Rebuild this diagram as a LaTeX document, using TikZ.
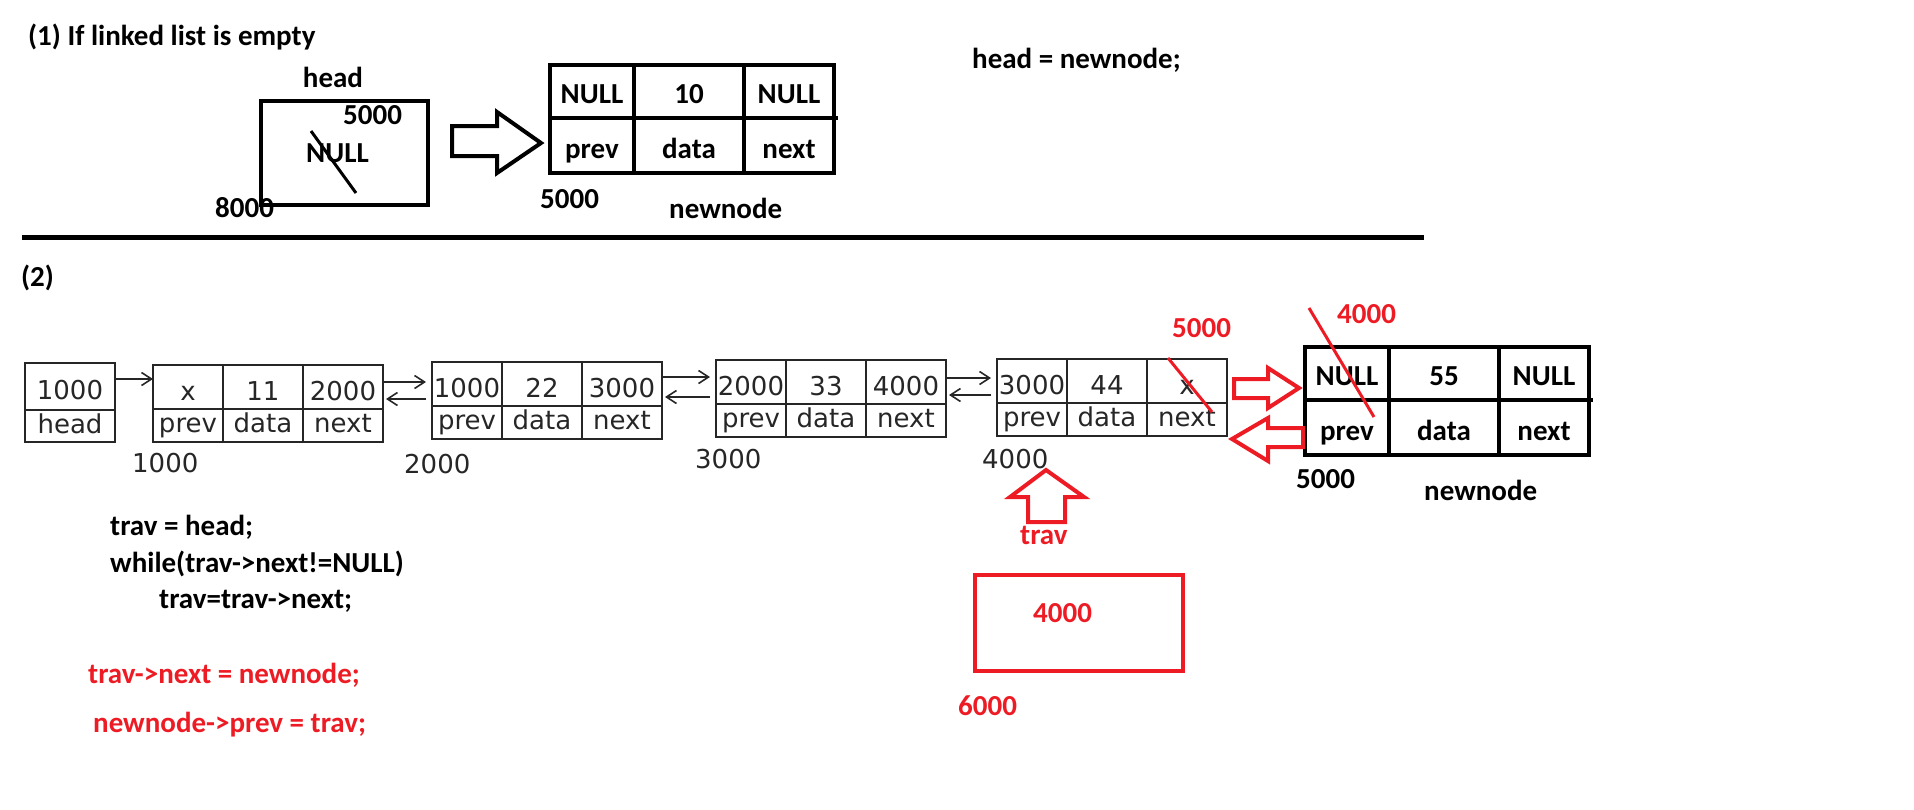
\documentclass[tikz,border=0pt]{standalone}
\usepackage{fontspec}
\setmainfont{Carlito}
\newfontfamily\scanfont{DejaVu Sans}
\usepackage{xcolor}
\definecolor{paintred}{RGB}{237,28,36}
\newcommand{\redtxt}[1]{\textcolor{paintred}{#1}}
\usepackage{tikz}
\usetikzlibrary{arrows.meta}
\usetikzlibrary{positioning}

\newcommand{\dllnode}[6]{%
  \node[scantop, anchor=north west] (#1pv) at (#2,#3) {#4};
  \node[scantop, minimum width=80pt, right=0pt of #1pv] (#1dv) {#5};
  \node[scantop, minimum width=80pt, right=0pt of #1dv] (#1nv) {#6};
  \node[scanbot, below=0pt of #1pv] (#1p) {prev};
  \node[scanbot, minimum width=80pt, below=0pt of #1dv] (#1d) {data};
  \node[scanbot, minimum width=80pt, below=0pt of #1nv] (#1n) {next};
}
\newcommand{\bignode}[6]{%
  \node[boldtop, minimum width=84pt, anchor=north west] (#1pv) at (#2,#3) {#4};
  \node[boldtop, minimum width=110pt, right=0pt of #1pv] (#1dv) {#5};
  \node[boldtop, minimum width=90pt, right=0pt of #1dv] (#1nv) {#6};
  \node[boldbot, minimum width=84pt, below=0pt of #1pv] (#1p) {prev};
  \node[boldbot, minimum width=110pt, below=0pt of #1dv] (#1d) {data};
  \node[boldbot, minimum width=90pt, below=0pt of #1nv] (#1n) {next};
}

\begin{document}
\begin{tikzpicture}[x=1pt, y=-1pt,
    lbl/.style={font=\fontsize{29}{34}\selectfont\bfseries, inner sep=0pt, anchor=base west},
    scanlbl/.style={font=\scanfont\fontsize{26}{30}\selectfont, text=black!85, inner sep=0pt, anchor=base west},
    scancell/.style={draw=black!85, line width=1.6pt, outer sep=0pt, inner sep=0pt,
      font=\scanfont\fontsize{26}{30}\selectfont, text=black!85, minimum width=70pt},
    scantop/.style={scancell, minimum height=44pt, text height=26pt, text depth=0pt},
    scanbot/.style={scancell, minimum height=33pt, text height=14pt, text depth=0pt},
    boldcell/.style={draw, line width=4pt, outer sep=0pt, inner sep=0pt,
      font=\fontsize{29}{34}\selectfont\bfseries},
    boldtop/.style={boldcell, minimum height=53pt, text height=24pt, text depth=0pt},
    boldbot/.style={boldcell, minimum height=55pt, text height=26pt, text depth=0pt},
    ptr/.style={draw=black!85, line width=1.6pt, -{Straight Barb[length=10pt,width=13pt]}},
    blockarrow/.style={line width=4pt, line join=miter}]

      \useasboundingbox (0,0) rectangle (1914,809);

      \node[lbl] (case1) at (28,45) {(1) If linked list is empty};
      \node[lbl, anchor=base] (headlbl) at (333,87) {head};
      \node[draw, line width=4pt, minimum width=167pt, minimum height=104pt, anchor=north west] (headbox) at (259,99) {};
      \node[lbl] (hval) at (343,124) {5000};
      \node[lbl] (hnull) at (306,162) {NULL};
      \draw[line width=3pt] (311,131) -- (356,193);
      \node[lbl] (haddr) at (215,217) {8000};

      \draw[blockarrow] (452,126) -- (497,126) -- (497,112) -- (541,143) -- (497,173) -- (497,156) -- (452,156) -- cycle;

      \bignode{nn}{550}{65}{NULL}{10}{NULL}
      \draw[line width=4pt] (nnnv.south east) -- ++(4,0);
      \node[lbl] (nnaddr) at (540,208) {5000};
      \node[lbl] (nnlbl) at (669,218) {newnode};
      \node[lbl] (stmt) at (972,68) {head = newnode;};

      \draw[line width=5pt] (22,237) -- (1424,237);

      \node[lbl] (case2) at (21,286) {(2)};

      \node[scantop, minimum width=90pt, minimum height=47pt, anchor=north west] (hdv) at (25,363) {1000};
      \node[scanbot, minimum width=90pt, minimum height=32pt, below=0pt of hdv] (hd) {head};
      \dllnode{a}{153}{365}{x}{11}{2000}
      \dllnode{b}{432}{362}{1000}{22}{3000}
      \dllnode{c}{716}{360}{2000}{33}{4000}
      \dllnode{d}{997}{359}{3000}{44}{x}

      \node[scanlbl] (aaddr) at (132,472) {1000};
      \node[scanlbl] (baddr) at (404,473) {2000};
      \node[scanlbl] (caddr) at (695,468) {3000};
      \node[scanlbl] (daddr) at (982,468) {4000};

      \draw[ptr] ([yshift=-16pt]hdv.north east) -- ([yshift=-16pt]hdv.north east -| apv.west);
      \draw[ptr, shorten >=6pt] ([yshift=-17pt]anv.north east) -- ([yshift=-17pt]anv.north east -| bpv.west);
      \draw[ptr, shorten <=6pt, shorten >=3pt] ([yshift=-37pt]bpv.north west) -- ([yshift=-37pt]bpv.north west -| anv.east);
      \draw[ptr, shorten >=6pt] ([yshift=-15pt]bnv.north east) -- ([yshift=-15pt]bnv.north east -| cpv.west);
      \draw[ptr, shorten <=6pt, shorten >=3pt] ([yshift=-37pt]cpv.north west) -- ([yshift=-37pt]cpv.north west -| bnv.east);
      \draw[ptr, shorten >=6pt] ([yshift=-18pt]cnv.north east) -- ([yshift=-18pt]cnv.north east -| dpv.west);
      \draw[ptr, shorten <=6pt, shorten >=3pt] ([yshift=-36pt]dpv.north west) -- ([yshift=-36pt]dpv.north west -| cnv.east);

      \node[lbl] (code1) at (110,535) {trav = head;};
      \node[lbl] (code2) at (110,572) {while(trav->next!=NULL)};
      \node[lbl] (code3) at (159,608) {trav=trav->next;};
      \node[lbl] (code4) at (88,683) {\redtxt{trav->next = newnode;}};
      \node[lbl] (code5) at (93,732) {\redtxt{newnode->prev = trav;}};

      \bignode{m}{1305}{347}{NULL}{55}{NULL}
      \draw[line width=4pt] (mnv.south east) -- ++(4,0);
      \node[lbl] (maddr) at (1296,488) {5000};
      \node[lbl] (mlbl) at (1424,500) {newnode};

      \draw[paintred, line width=3pt] (1168,358) -- (1212,412);
      \node[lbl] (dnew) at (1172,337) {\redtxt{5000}};
      \draw[paintred, line width=3pt] (1309,308) -- (1374,417);
      \node[lbl] (mnew) at (1337,323) {\redtxt{4000}};

      \draw[blockarrow, paintred] (1234,379) -- (1268,379) -- (1268,368) -- (1299,388) -- (1268,408) -- (1268,398) -- (1234,398) -- cycle;
      \draw[blockarrow, paintred] (1303,428) -- (1268,428) -- (1268,418) -- (1232,439) -- (1268,461) -- (1268,447) -- (1303,447) -- cycle;
      \draw[blockarrow, paintred] (1046,470) -- (1084,497) -- (1065,497) -- (1065,522) -- (1028,522) -- (1028,497) -- (1010,497) -- cycle;

      \node[lbl] (trav) at (1020,544) {\redtxt{trav}};
      \draw[paintred, line width=4pt] (975,575) rectangle (1183,671);
      \node[lbl] (travval) at (1033,622) {\redtxt{4000}};
      \node[lbl] (travaddr) at (958,715) {\redtxt{6000}};

\end{tikzpicture}
\end{document}
